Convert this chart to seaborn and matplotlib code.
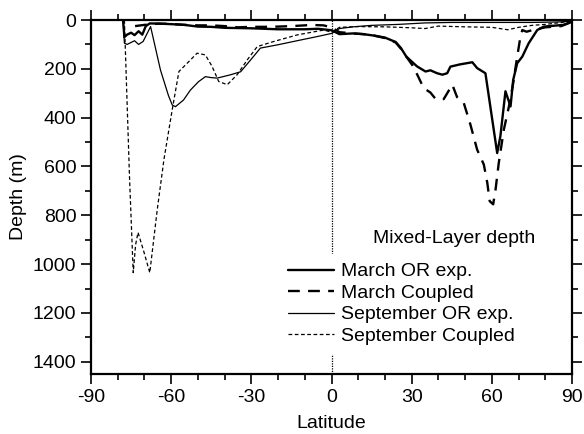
import matplotlib
matplotlib.use("Agg")
import matplotlib.pyplot as plt
import pandas as pd
import seaborn as sns
from matplotlib.ticker import MultipleLocator

# Zonal-mean mixed-layer depth (m) against latitude
lat_mar_or = [-78, -77.5, -76.5, -75, -73.7, -72.2, -70.8, -69.5, -68, -64, -60, -55,
              -50, -45, -40, -35, -30, -25, -20, -15, -10, -5, 0, 3, 8, 12, 16, 20,
              24, 26, 28, 30, 32, 35.2, 37, 39.5, 41.5, 43.3, 44.5, 48, 52.7, 54.5,
              57.6, 62, 63.2, 65.1, 67, 68, 69.5, 71.4, 73.8, 77, 79.5, 86.8, 90]
dep_mar_or = [0, 70, 60, 52, 62, 46, 60, 25, 14, 15, 17, 20, 27, 28, 32, 33, 34, 36,
              38, 38, 38, 36, 42, 58, 55, 58, 64, 72, 90, 115, 150, 170, 190, 211,
              206, 218, 224, 218, 191, 182, 173, 197, 218, 545, 476, 292, 354, 245,
              177, 150, 95, 41, 27, 20, 7]

lat_mar_cp = [-73.5, -70, -65, -60, -55, -50, -45, -40, -35, -30, -25, -20, -15, -10,
              -8, -3, 0, 3, 8, 12, 16, 20, 24, 26, 28, 30.2, 32.1, 34.5, 37, 39, 42,
              45.2, 47, 49.5, 52, 54.5, 57, 58.3, 59.2, 60.5, 61.4, 62.6, 64.5, 66.4,
              68, 69.5, 70.5, 71.4, 73, 75, 80, 86, 90]
dep_mar_cp = [25, 20, 15, 16, 20, 22, 22, 25, 30, 28, 28, 27, 25, 22, 20, 22, 30, 50,
              55, 58, 64, 74, 92, 118, 150, 184, 224, 279, 297, 324, 324, 265, 316,
              340, 429, 531, 592, 667, 742, 755, 694, 585, 449, 354, 258, 150, 82,
              41, 48, 42, 30, 25, 7]

lat_sep_or = [-78, -77.5, -76.5, -75, -73.7, -72.2, -70.5, -67.7, -64, -61, -59.6,
              -58.4, -55.4, -52.8, -49.8, -47.2, -45, -42.8, -38, -34, -30.3, -26.6,
              -20.3, -11.6, -5.4, 0, 3, 8, 15, 25, 35, 45, 60, 75, 85, 90]
dep_sep_or = [0, 95, 100, 92, 85, 100, 88, 27, 205, 310, 348, 355, 328, 287, 253, 232,
              236, 238, 225, 212, 164, 115, 102, 82, 68, 55, 35, 28, 22, 18, 12, 10,
              10, 10, 8, 5]

lat_sep_cp = [-77.5, -75.6, -74.2, -73.3, -72.4, -70.2, -68, -65.2, -62.7, -59.6,
              -57.1, -54, -50.3, -47.2, -44.7, -42.2, -39, -35.3, -31.5, -27.8, -21.6,
              -12.8, -2.9, 0, 3, 10, 20, 30, 35, 40, 50, 60, 66, 70, 75, 80, 90]
dep_sep_cp = [0, 640, 1035, 920, 870, 950, 1035, 776, 571, 367, 211, 177, 136, 143,
              190, 252, 265, 224, 163, 109, 88, 61, 41, 50, 30, 27, 28, 32, 35, 25,
              28, 30, 40, 30, 22, 18, 5]

series = [
    ("March OR exp.", lat_mar_or, dep_mar_or, dict(lw=1.7, linestyle="-")),
    ("March Coupled", lat_mar_cp, dep_mar_cp, dict(lw=1.7, linestyle=(0, (5, 3.5)))),
    ("September OR exp.", lat_sep_or, dep_sep_or, dict(lw=0.9, linestyle="-")),
    ("September Coupled", lat_sep_cp, dep_sep_cp, dict(lw=0.9, linestyle=(0, (3, 2)))),
]

sns.set_style("ticks")
plt.rcParams["font.family"] = ["Liberation Sans", "DejaVu Sans"]
plt.rcParams["axes.unicode_minus"] = False
plt.rcParams["font.size"] = 14
plt.rcParams["text.color"] = "black"
plt.rcParams["axes.labelcolor"] = "black"

fig = plt.figure(figsize=(5.84, 4.34), dpi=100)
ax = fig.add_axes([91 / 584, 1 - 374 / 434, 481 / 584, 354 / 434])

# equator reference line
ax.axvline(0, color="black", lw=0.9, linestyle=(0, (1, 1)), zorder=1)

for name, lat, dep, style in series:
    df = pd.DataFrame({"Latitude": lat, "Depth": dep})
    sns.lineplot(data=df, x="Latitude", y="Depth", ax=ax, color="black",
                 estimator=None, sort=False, label=name, **style)

ax.set_xlim(-90, 90)
ax.set_ylim(1450, 0)
ax.xaxis.set_major_locator(MultipleLocator(30))
ax.xaxis.set_minor_locator(MultipleLocator(10))
ax.yaxis.set_major_locator(MultipleLocator(200))
ax.yaxis.set_minor_locator(MultipleLocator(100))
ax.tick_params(which="both", direction="out", top=True, right=True,
               labeltop=False, labelright=False, width=1.2, colors="black",
               labelcolor="black", labelsize=14)
ax.tick_params(which="major", length=7)
ax.tick_params(which="minor", length=4)
for sp in ax.spines.values():
    sp.set_linewidth(1.6)
    sp.set_color("black")

ax.set_xlabel("Latitude", fontsize=14, labelpad=7, color="black")
ax.set_ylabel("Depth (m)", fontsize=14, labelpad=4, color="black")

ax.text(0.755, 0.384, "Mixed-Layer depth", transform=ax.transAxes,
        ha="center", va="center", fontsize=14, color="black")

leg = ax.legend(loc="center", bbox_to_anchor=(0.646, 0.198), frameon=True,
                fontsize=14, handlelength=2.37, handletextpad=0.35,
                labelspacing=0.2, borderpad=0.45, fancybox=False)
leg.get_frame().set_facecolor("white")
leg.get_frame().set_edgecolor("white")
leg.get_frame().set_alpha(1)
for t in leg.get_texts():
    t.set_color("black")

fig.savefig("out.png", dpi=100)
